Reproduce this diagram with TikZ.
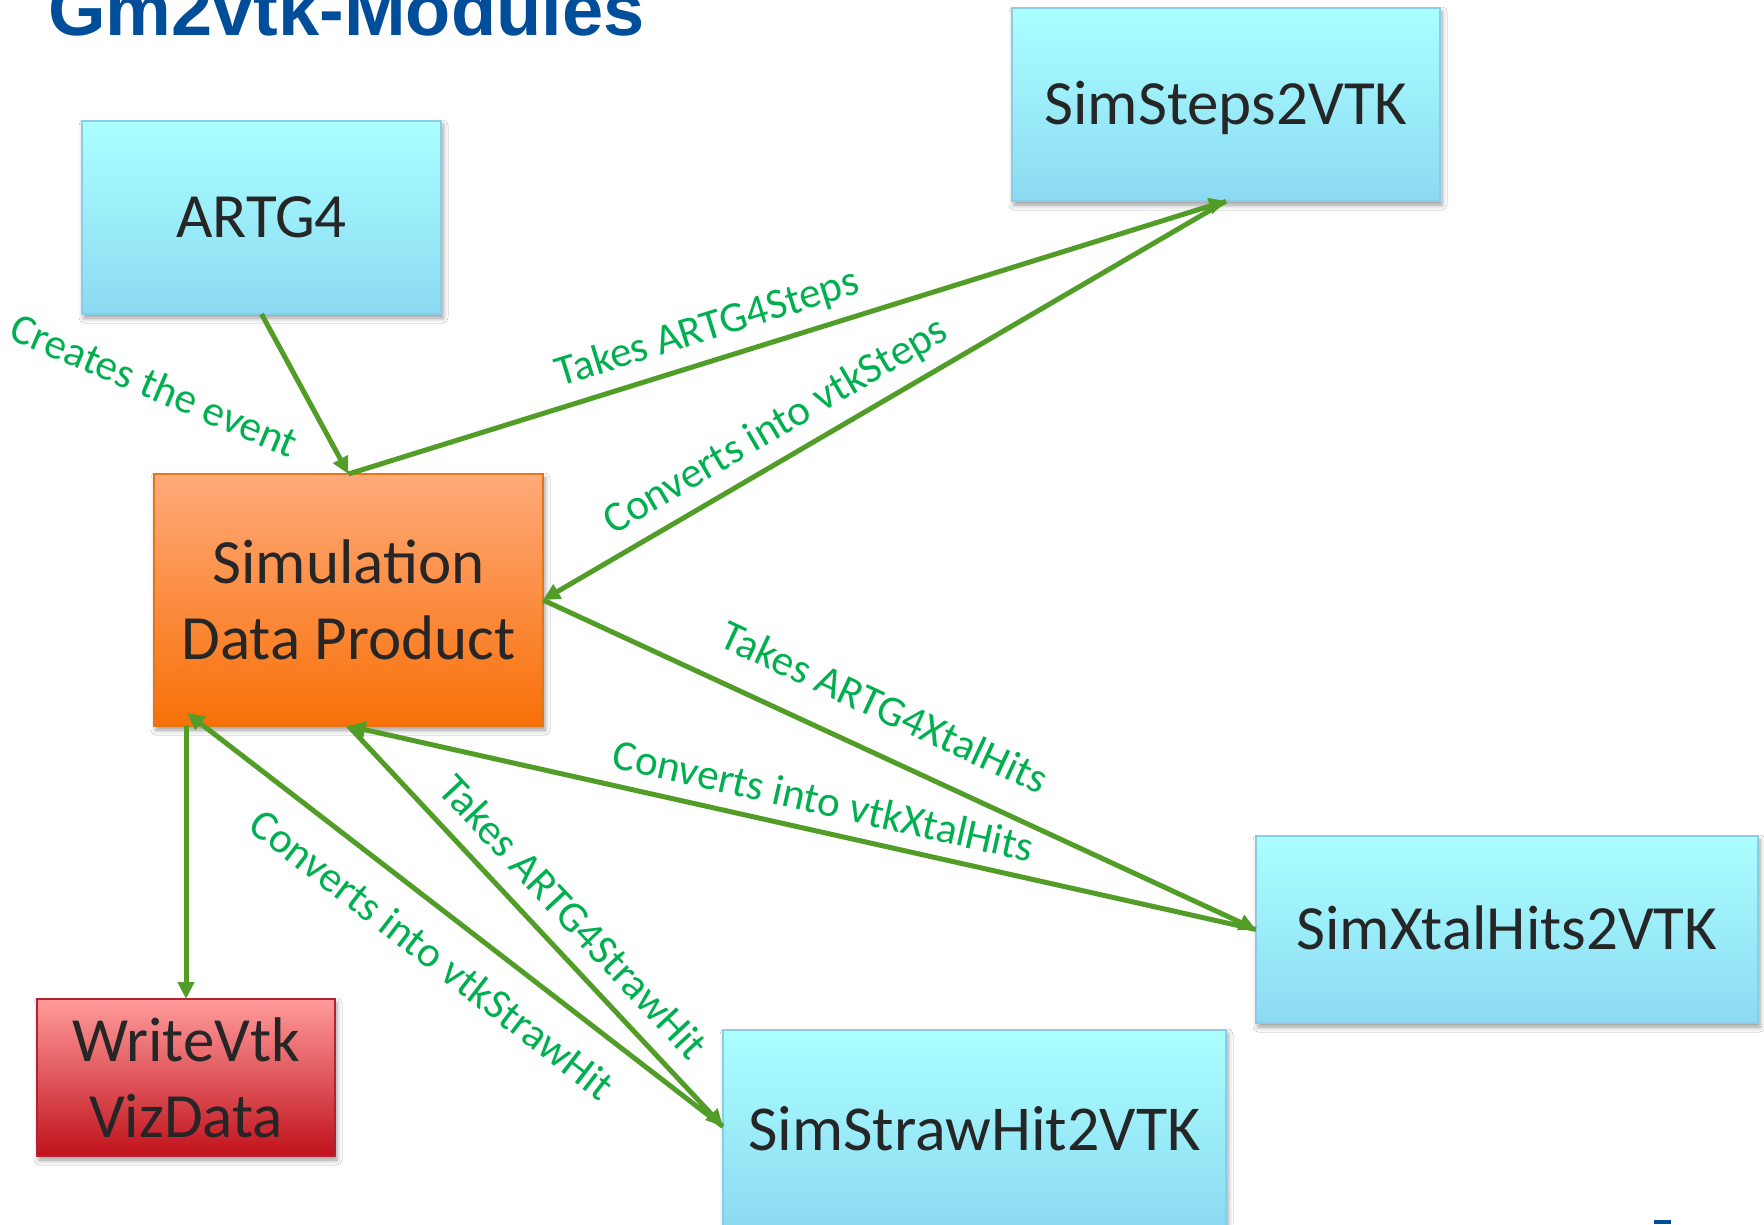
\documentclass[tikz,border=0pt]{standalone}
\usepackage{fontspec}
\setmainfont{Carlito}
\newfontfamily\headfont{Liberation Sans}
\usetikzlibrary{arrows.meta,shadows.blur}

\definecolor{headBlue}{RGB}{0,77,153}
\definecolor{textDark}{RGB}{38,38,38}
\definecolor{flowGreen}{RGB}{82,157,40}
\definecolor{labGreen}{RGB}{0,176,80}
\definecolor{modTop}{RGB}{170,255,255}
\definecolor{modBot}{RGB}{140,218,242}
\definecolor{modEdge}{RGB}{140,204,232}
\definecolor{sdpTop}{RGB}{255,170,122}
\definecolor{sdpBot}{RGB}{248,112,8}
\definecolor{sdpEdge}{RGB}{226,118,24}
\definecolor{outTop}{RGB}{255,155,155}
\definecolor{outBot}{RGB}{192,18,28}
\definecolor{outEdge}{RGB}{178,34,48}

\begin{document}
\begin{tikzpicture}[x=1pt,y=-1pt,
  box/.style={line width=1.5pt, inner sep=0pt, outer sep=0pt, anchor=center,
    text=textDark, align=center, font=\fontsize{63}{76}\selectfont,
    blur shadow={shadow xshift=2pt, shadow yshift=-4pt, shadow blur radius=5pt, shadow opacity=40}},
  oneline/.style={text height=40.5pt, text depth=0pt},
  module/.style={box, draw=modEdge, top color=modTop, bottom color=modBot},
  product/.style={box, draw=sdpEdge, top color=sdpTop, bottom color=sdpBot},
  writer/.style={box, draw=outEdge, top color=outTop, bottom color=outBot},
  flow/.style={line width=5pt, draw=flowGreen, -{Triangle[length=17pt,width=16pt]}},
  lab/.style={font=\fontsize{43}{50}\selectfont, text=labGreen, inner sep=0pt,
    text height=27pt, text depth=0pt}]

\clip (0,0) rectangle (1764,1224);
\fill[white] (0,0) rectangle (1764,1224);

% heading
\node[anchor=base west, inner sep=0pt, text=headBlue,
  font=\headfont\bfseries\fontsize{74}{80}\selectfont] (head) at (48,35) {Gm2vtk-Modules};
\fill[headBlue] (1654,1220) rectangle (1671,1224);

% modules
\node[module, oneline, minimum width=359pt, minimum height=193pt] (A)  at (261.5,217.5) {ARTG4};
\node[module, oneline, minimum width=428pt, minimum height=193pt] (SS) at (1226,104.5) {SimSteps2VTK};
\node[product, minimum width=389pt, minimum height=252pt] (SDP) at (348.5,600) {Simulation\\Data Product};
\node[writer, minimum width=298pt, minimum height=157pt] (WV) at (186,1077.5) {WriteVtk\\VizData};
\node[module, oneline, minimum width=502pt, minimum height=187pt] (XH) at (1507,929.5) {SimXtalHits2VTK};
\node[module, oneline, minimum width=503pt, minimum height=200pt, font=\fontsize{64}{76}\selectfont] (SH) at (974.5,1130) {SimStrawHit2VTK};

\coordinate (sdpfoot) at ([xshift=33pt,yshift=13pt]SDP.south west);
\coordinate (strawin) at (SH.west |- 0,1126.5);

% data flow
\draw[flow] (A.south) -- (SDP.north);
\node[lab, rotate=-23] (create) at (154,386) {Creates the event};
\draw[flow] (SDP.north) -- node[lab, pos=0.42, sloped, above=18pt] {Takes ARTG4Steps} (SS.south);
\draw[flow] (SS.south) -- node[lab, pos=0.635, sloped, above=18pt] {Converts into vtkSteps} (SDP.east);
\draw[flow] (SDP.east) -- node[lab, pos=0.452, sloped, above=29pt] {Takes ARTG4XtalHits} (XH.west);
\draw[flow] (XH.west) -- node[lab, pos=0.484, sloped, above=14pt] {Converts into vtkXtalHits} (SDP.south);
\draw[flow] (SDP.south) -- node[lab, pos=0.534, sloped, above=17pt] {Takes ARTG4StrawHit} (strawin);
\draw[flow] (strawin) -- node[lab, pos=0.4955, sloped, below=26pt] {Converts into vtkStrawHit} (sdpfoot);
\draw[flow] (WV.north |- SDP.south) -- (WV.north);

\end{tikzpicture}
\end{document}
